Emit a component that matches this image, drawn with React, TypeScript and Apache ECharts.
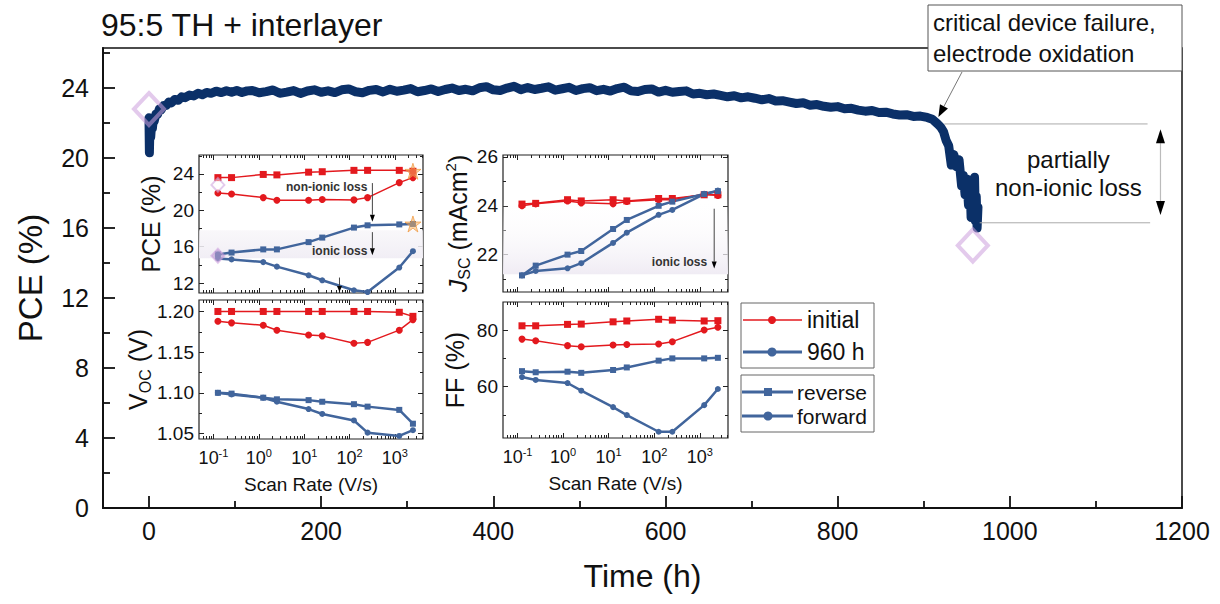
import React, { useEffect, useRef } from "react";
import * as echarts from "echarts";

const FONT = '"Liberation Sans", Arial, Helvetica, sans-serif';
const INK = "#111111";
const RED = "#e3191e";
const BLUE = "#41659c";
const NAVY = "#0b3068";
const LAV_LINE = "rgba(205,160,222,0.7)";
const LAV_FILL = "rgba(190,160,212,0.75)";
const STAR_FILL = "rgba(248,176,96,0.65)";
const STAR_LINE = "rgba(238,150,60,0.9)";

// ---------- main stability track ----------
const titleText = "95:5 TH + interlayer";
const mainXTicks = [0, 200, 400, 600, 800, 1000, 1200];
const mainXMinorTicks = [100, 300, 500, 700, 900, 1100];
const mainYTicks = [0, 4, 8, 12, 16, 20, 24];
const mainYMinorTicks = [2, 6, 10, 14, 18, 22, 26];
const MAIN_X_MIN = -53.4;
const MAIN_X_MAX = 1200;
const MAIN_Y_MIN = 0;
const MAIN_Y_MAX = 26.29;

const timeH = [
  0, 0.5, 1, 2, 3, 4, 5, 6, 8, 10, 12, 14, 17, 20, 23, 26, 30, 34, 38, 42, 47, 52, 57, 62, 67, 72, 78, 84, 90, 96, 102, 108, 114,
  120, 128, 136, 144, 152, 160, 168, 176, 184, 192, 200, 208, 216, 224, 232, 240, 248, 256, 264, 272, 280, 288, 296, 304, 312,
  320, 328, 336, 344, 352, 360, 368, 376, 384, 392, 400, 408, 416, 424, 432, 440, 448, 456, 464, 472, 480, 488, 496, 504, 512,
  520, 528, 536, 544, 552, 560, 568, 576, 584, 592, 600, 608, 616, 624, 632, 640, 648, 656, 664, 672, 680, 688, 696, 704, 712,
  720, 728, 736, 744, 752, 760, 768, 776, 784, 792, 800, 808, 816, 824, 832, 840, 848, 856, 864, 872, 880, 888, 896, 904,
  910, 916, 920, 923, 926, 929, 932, 935, 938, 941, 944, 946, 948, 950, 952, 954, 955, 957, 958, 959, 960, 961, 962, 963,
];
const pceTrack = [
  22.3, 20.3, 21.5, 21.2, 21.9, 21.7, 22.2, 22.1, 22.5, 22.5, 22.8, 22.75, 23.0, 23.0, 23.2, 23.15, 23.35, 23.3, 23.5, 23.45,
  23.6, 23.55, 23.7, 23.62, 23.75, 23.7, 23.82, 23.74, 23.85, 23.76, 23.86, 23.75, 23.84,
  23.86, 23.73, 23.8, 23.89, 23.7, 23.77, 23.86, 23.69, 23.83, 23.9,
  23.76, 23.84, 23.74, 23.9, 23.95, 23.79, 23.73, 23.87, 23.92, 23.78,
  23.93, 23.82, 23.88, 23.97, 23.79, 23.86, 23.95, 23.8, 23.92, 24.0,
  23.86, 23.93, 23.84, 24.02, 24.08, 23.9, 23.86, 24.0, 24.1, 23.91,
  24.03, 23.92, 23.99, 24.07, 23.88, 23.96, 24.04, 23.86, 23.97, 24.02,
  23.85, 23.93, 23.83, 23.97, 24.05, 23.84, 23.8, 23.92, 23.95, 23.77,
  23.87, 23.76, 23.8, 23.84, 23.66, 23.7, 23.62, 23.66, 23.58, 23.5,
  23.56, 23.44, 23.5, 23.42, 23.33, 23.4, 23.26, 23.28, 23.2, 23.12,
  23.16, 23.02, 23.06, 22.96, 22.9, 22.94, 22.82, 22.84, 22.74, 22.68,
  22.72, 22.6, 22.62, 22.52, 22.46, 22.48, 22.38, 22.4, 22.32,
  22.22, 21.95, 21.75, 21.5, 21.0, 20.7, 19.6, 20.2, 19.5, 19.9, 18.4, 19.0, 17.9, 18.8, 17.3, 18.2, 16.6, 18.6, 16.9, 18.9,
  16.4, 17.8, 16.0, 17.2,
];
const jvTimes = [0, 957];
const jvPce = [22.8, 15.0];

// ---------- insets (scan-rate dependence) ----------
const scanRates = [0.125, 0.25, 1.25, 2.5, 12.5, 25, 125, 250, 1250, 2500];
const scanMajorTicks = [0.1, 1, 10, 100, 1000];
const scanMinorTicks = [
  0.06, 0.07, 0.08, 0.09, 0.2, 0.3, 0.4, 0.5, 0.6, 0.7, 0.8, 0.9, 2, 3, 4, 5, 6, 7, 8, 9,
  20, 30, 40, 50, 60, 70, 80, 90, 200, 300, 400, 500, 600, 700, 800, 900, 2000, 3000, 4000,
];
const LOG_MIN = Math.pow(10, -1.32);
const LOG_MAX = Math.pow(10, 3.62);

const pceInitRev = [23.6, 23.6, 23.95, 23.9, 24.2, 24.25, 24.4, 24.4, 24.4, 24.3];
const pceInitFwd = [21.9, 21.8, 21.4, 21.1, 21.1, 21.2, 21.15, 21.4, 23.05, 23.6];
const pce960Rev = [15.15, 15.35, 15.7, 15.7, 16.5, 17.0, 18.1, 18.35, 18.45, 18.5];
const pce960Fwd = [14.7, 14.6, 14.3, 13.8, 12.85, 12.3, 11.2, 11.0, 13.7, 15.5];

const vocInitRev = [1.2, 1.2, 1.2, 1.2, 1.2, 1.2, 1.2, 1.2, 1.199, 1.194];
const vocInitFwd = [1.188, 1.186, 1.183, 1.177, 1.171, 1.17, 1.161, 1.162, 1.177, 1.19];
const voc960Rev = [1.1, 1.099, 1.094, 1.092, 1.091, 1.089, 1.086, 1.083, 1.079, 1.062];
const voc960Fwd = [1.1, 1.098, 1.094, 1.089, 1.08, 1.074, 1.066, 1.051, 1.047, 1.054];

const jscInitRev = [24.07, 24.1, 24.25, 24.2, 24.25, 24.2, 24.3, 24.3, 24.45, 24.45];
const jscInitFwd = [24.0, 24.08, 24.2, 24.12, 24.08, 24.18, 24.25, 24.25, 24.47, 24.42];
const jsc960Rev = [21.15, 21.55, 22.0, 22.15, 23.05, 23.42, 24.0, 24.17, 24.48, 24.6];
const jsc960Fwd = [21.15, 21.33, 21.44, 21.65, 22.48, 22.9, 23.63, 23.83, 24.48, 24.62];

const ffInitRev = [81.5, 81.5, 82.0, 82.1, 82.9, 83.2, 83.8, 83.5, 83.2, 83.3];
const ffInitFwd = [76.8, 76.2, 74.5, 74.1, 74.7, 74.9, 75.1, 75.9, 80.0, 81.0];
const ff960Rev = [65.5, 65.1, 65.3, 64.9, 65.9, 66.8, 69.2, 70.0, 70.0, 70.2];
const ff960Fwd = [63.4, 62.4, 61.3, 58.6, 52.8, 50.0, 44.1, 44.1, 53.5, 59.2];

const insetJvRate = [0.125, 0.125];
const insetJvPce = [22.8, 15.0];
const starRate = [2500, 2500];
const starPce = [24.3, 18.5];

const legendLabels = ["initial", "960 h", "reverse", "forward"];
const annotationLines = ["critical device failure,", "electrode oxidation"];
const lossLabels = ["partially", "non-ionic loss"];

const STAR_PATH =
  "path://M50,0 L61.2,34.5 L97.6,34.5 L68.2,55.9 L79.4,90.5 L50,69.1 L20.6,90.5 L31.8,55.9 L2.4,34.5 L38.8,34.5 Z";

const panels: any[] = [
  {
    grid: { left: 199, top: 155, width: 224, height: 138 },
    yMin: 10.9, yMax: 26.09, yTicks: [12, 16, 20, 24], yMinor: [14, 18, 22, 26], dec: 0,
    name: "PCE (%)", nameGap: 36, xLabels: false,
    data: [pceInitRev, pceInitFwd, pce960Rev, pce960Fwd],
    band: [14.73, 17.8], bandStrong: false,
  },
  {
    grid: { left: 199, top: 300, width: 224, height: 139 },
    yMin: 1.0432, yMax: 1.2141, yTicks: [1.05, 1.1, 1.15, 1.2], yMinor: [1.075, 1.125, 1.175], dec: 2,
    name: "{v|V}{s|OC}{v| (V)}", nameGap: 36, xLabels: true,
    data: [vocInitRev, vocInitFwd, voc960Rev, voc960Fwd],
  },
  {
    grid: { left: 503, top: 155, width: 225, height: 137 },
    yMin: 20.47, yMax: 26.08, yTicks: [22, 24, 26], yMinor: [21, 23, 25], dec: 0,
    name: "{j|J}{s|SC}{v| (mAcm}{p|2}{v|)}", nameGap: 30, xLabels: false,
    data: [jscInitRev, jscInitFwd, jsc960Rev, jsc960Fwd],
    band: [21.2, 24.3], bandStrong: true,
  },
  {
    grid: { left: 503, top: 302, width: 225, height: 136 },
    yMin: 41.9, yMax: 89.9, yTicks: [60, 80], yMinor: [50, 70], dec: 0,
    name: "FF (%)", nameGap: 36, xLabels: true,
    data: [ffInitRev, ffInitFwd, ff960Rev, ff960Fwd],
  },
];

const seriesStyles = [
  { color: RED, symbol: "rect", width: 1.5, size: 7 },
  { color: RED, symbol: "circle", width: 1.5, size: 7 },
  { color: BLUE, symbol: "rect", width: 2.5, size: 6 },
  { color: BLUE, symbol: "circle", width: 2.5, size: 6 },
];

const nameRich = {
  v: { fontSize: 25, lineHeight: 30, fontFamily: FONT, color: INK },
  j: { fontSize: 25, lineHeight: 30, fontFamily: FONT, color: INK, fontStyle: "italic" },
  s: { fontSize: 16, lineHeight: 14, verticalAlign: "bottom", fontFamily: FONT, color: INK },
  p: { fontSize: 15, lineHeight: 14, verticalAlign: "top", fontFamily: FONT, color: INK },
};

function buildOption() {
  const grid: any[] = [];
  const xAxis: any[] = [];
  const yAxis: any[] = [];
  const series: any[] = [];
  const axes: any[] = [];
  const mainTick = { color: INK, width: 1.8 };

  grid.push({
    left: 103, top: 48, width: 1079, height: 460, show: true, borderColor: INK, borderWidth: 1.5,
    backgroundColor: "transparent", containLabel: false, outerBoundsMode: "none",
  });
  const mx = { gridIndex: 0, type: "value", min: MAIN_X_MIN, max: MAIN_X_MAX, position: "bottom", splitLine: { show: false } };
  xAxis.push({
    ...mx,
    axisLine: { show: true, onZero: false, lineStyle: { color: INK, width: 2 } },
    axisTick: { show: true, inside: true, length: 12, customValues: mainXTicks, lineStyle: mainTick },
    axisLabel: {
      show: true, customValues: mainXTicks, fontSize: 25, color: INK, margin: 10, fontFamily: FONT,
      formatter: (v: number) => String(v),
    },
    name: "Time (h)", nameLocation: "middle", nameGap: 52,
    nameTextStyle: { fontSize: 32, color: INK, fontFamily: FONT },
  });
  xAxis.push({
    ...mx,
    axisLine: { show: false, onZero: false },
    axisTick: { show: true, inside: true, length: 7, customValues: mainXMinorTicks, lineStyle: mainTick },
    axisLabel: { show: false },
  });
  const my = { gridIndex: 0, type: "value", min: MAIN_Y_MIN, max: MAIN_Y_MAX, position: "left", splitLine: { show: false } };
  yAxis.push({
    ...my,
    axisLine: { show: true, onZero: false, lineStyle: { color: INK, width: 2 } },
    axisTick: { show: true, inside: true, length: 12, customValues: mainYTicks, lineStyle: mainTick },
    axisLabel: {
      show: true, customValues: mainYTicks, fontSize: 25, color: INK, margin: 14, fontFamily: FONT,
      formatter: (v: number) => String(v),
    },
    name: "PCE (%)", nameLocation: "middle", nameRotate: 90, nameGap: 56,
    nameTextStyle: { fontSize: 33, color: INK, fontFamily: FONT },
  });
  yAxis.push({
    ...my,
    axisLine: { show: false, onZero: false },
    axisTick: { show: true, inside: true, length: 7, customValues: mainYMinorTicks, lineStyle: mainTick },
    axisLabel: { show: false },
  });
  axes.push({ xi: 0, yi: 0 });

  series.push({
    type: "line", name: "PCE track", xAxisIndex: 0, yAxisIndex: 0,
    data: timeH.map((t, i) => [t, pceTrack[i]]),
    showSymbol: false, symbol: "none",
    lineStyle: { color: NAVY, width: 9, join: "round", cap: "round" },
    z: 3, silent: true,
  });
  series.push({
    type: "scatter", name: "JV points", xAxisIndex: 0, yAxisIndex: 0,
    data: jvTimes.map((t, i) => [t, jvPce[i]]),
    symbol: "diamond", symbolSize: [30, 32],
    itemStyle: { color: "rgba(255,255,255,0)", borderColor: LAV_LINE, borderWidth: 4 },
    z: 4, silent: true,
  });

  const tickLine = { color: "#222", width: 1 };
  const powFmt = (v: number) => "{b|10}{s|" + Math.round(Math.log10(v)) + "}";

  panels.forEach((p, k) => {
    const gi = grid.length;
    grid.push({
      ...p.grid, show: true, backgroundColor: "#ffffff", borderColor: "#222", borderWidth: 1.2,
      containLabel: false, outerBoundsMode: "none",
    });
    const cx = {
      gridIndex: gi, type: "log", logBase: 10, min: LOG_MIN, max: LOG_MAX,
      axisLine: { show: false, onZero: false }, splitLine: { show: false },
    };
    const xi = xAxis.length;
    xAxis.push({
      ...cx, position: "bottom",
      axisTick: { show: true, inside: true, length: 5, customValues: scanMajorTicks, lineStyle: tickLine },
      axisLabel: p.xLabels
        ? {
            show: true, customValues: scanMajorTicks, formatter: powFmt, margin: 8,
            rich: {
              b: { fontSize: 18, lineHeight: 22, fontFamily: FONT, color: INK },
              s: { fontSize: 11, lineHeight: 12, verticalAlign: "top", fontFamily: FONT, color: INK },
            },
          }
        : { show: false },
      name: p.xLabels ? "Scan Rate (V/s)" : "", nameLocation: "middle", nameGap: 36,
      nameTextStyle: { fontSize: 19, color: INK, fontFamily: FONT },
    });
    xAxis.push({ ...cx, position: "bottom", axisTick: { show: true, inside: true, length: 3, customValues: scanMinorTicks, lineStyle: tickLine }, axisLabel: { show: false } });
    xAxis.push({ ...cx, position: "top", axisTick: { show: true, inside: true, length: 5, customValues: scanMajorTicks, lineStyle: tickLine }, axisLabel: { show: false } });
    xAxis.push({ ...cx, position: "top", axisTick: { show: true, inside: true, length: 3, customValues: scanMinorTicks, lineStyle: tickLine }, axisLabel: { show: false } });

    const cy = {
      gridIndex: gi, type: "value", min: p.yMin, max: p.yMax,
      axisLine: { show: false, onZero: false }, splitLine: { show: false },
    };
    const yi = yAxis.length;
    yAxis.push({
      ...cy, position: "left",
      axisTick: { show: true, inside: true, length: 5, customValues: p.yTicks, lineStyle: tickLine },
      axisLabel: {
        show: true, customValues: p.yTicks, fontSize: 19, color: INK, fontFamily: FONT, margin: 5,
        formatter: (v: number) => v.toFixed(p.dec),
      },
      name: p.name, nameLocation: "middle", nameRotate: 90, nameGap: p.nameGap,
      nameTextStyle: { fontSize: 25, color: INK, fontFamily: FONT, rich: nameRich },
    });
    yAxis.push({ ...cy, position: "left", axisTick: { show: true, inside: true, length: 3, customValues: p.yMinor, lineStyle: tickLine }, axisLabel: { show: false } });
    yAxis.push({ ...cy, position: "right", axisTick: { show: true, inside: true, length: 5, customValues: p.yTicks, lineStyle: tickLine }, axisLabel: { show: false } });
    yAxis.push({ ...cy, position: "right", axisTick: { show: true, inside: true, length: 3, customValues: p.yMinor, lineStyle: tickLine }, axisLabel: { show: false } });
    axes.push({ xi, yi });

    p.data.forEach((vals: number[], j: number) => {
      const st = seriesStyles[j];
      const s: any = {
        type: "line", name: legendLabels[j < 2 ? 0 : 1] + " " + legendLabels[2 + (j % 2)],
        xAxisIndex: xi, yAxisIndex: yi,
        data: scanRates.map((r, i) => [r, vals[i]]),
        symbol: st.symbol, symbolSize: st.size, showSymbol: true,
        lineStyle: { color: st.color, width: st.width }, itemStyle: { color: st.color },
        z: 6, silent: true,
      };
      if (j === 0 && p.band) {
        const top = p.bandStrong ? "rgba(255,255,255,0)" : "rgba(246,244,248,0.7)";
        const bot = p.bandStrong ? "rgba(240,236,244,1)" : "rgba(241,238,245,1)";
        s.markArea = {
          silent: true,
          itemStyle: { color: new echarts.graphic.LinearGradient(0, 0, 0, 1, [{ offset: 0, color: top }, { offset: 1, color: bot }]) },
          data: [[{ yAxis: p.band[0] }, { yAxis: p.band[1] }]],
        };
      }
      series.push(s);
    });

    if (k === 0) {
      series.push({
        type: "scatter", xAxisIndex: xi, yAxisIndex: yi, z: 8, silent: true,
        data: [
          { value: [insetJvRate[0], insetJvPce[0]], itemStyle: { color: "rgba(255,255,255,0.6)", borderColor: LAV_LINE, borderWidth: 2 } },
          { value: [insetJvRate[1], insetJvPce[1]], itemStyle: { color: LAV_FILL, borderColor: LAV_LINE, borderWidth: 2 } },
        ],
        symbol: "diamond", symbolSize: [13, 14],
      });
      series.push({
        type: "scatter", xAxisIndex: xi, yAxisIndex: yi, z: 8, silent: true,
        data: starRate.map((r, i) => [r, starPce[i]]),
        symbol: STAR_PATH, symbolSize: 16,
        itemStyle: { color: STAR_FILL, borderColor: STAR_LINE, borderWidth: 1 },
      });
    }
  });

  const option = {
    animation: false,
    backgroundColor: "#ffffff",
    textStyle: { fontFamily: FONT },
    grid, xAxis, yAxis, series,
  };
  return { option, axes };
}

function arrow(x1: number, y1: number, x2: number, y2: number, stroke: string, lw: number, headLen: number, headW: number, head: string, z: number) {
  const dx = x2 - x1, dy = y2 - y1;
  const L = Math.hypot(dx, dy) || 1;
  const ux = dx / L, uy = dy / L;
  const bx = x2 - ux * headLen, by = y2 - uy * headLen;
  return [
    { type: "line", z, shape: { x1, y1, x2: bx, y2: by }, style: { stroke, lineWidth: lw } },
    {
      type: "polygon", z,
      shape: { points: [[x2, y2], [bx - uy * headW, by + ux * headW], [bx + uy * headW, by - ux * headW]] },
      style: { fill: head },
    },
  ];
}

function buildGraphics(chart: any, axes: any[]) {
  const Z = 100;
  const px = (k: number, x: number, y: number) =>
    chart.convertToPixel({ xAxisIndex: axes[k].xi, yAxisIndex: axes[k].yi }, [x, y]) as number[];
  const txt = (x: number, y: number, t: string, size: number, extra: any = {}) => ({
    type: "text", x, y, z: Z,
    style: { text: t, fontSize: size, fontFamily: FONT, fill: INK, align: "left", verticalAlign: "middle", ...extra },
  });
  const els: any[] = [];

  els.push(txt(101, 25, titleText, 32));

  // annotation box
  els.push({ type: "rect", z: Z, shape: { x: 928, y: 5, width: 254, height: 66 }, style: { fill: "#fff", stroke: "#555", lineWidth: 1 } });
  els.push(txt(933, 22, annotationLines[0], 24));
  els.push(txt(933, 53, annotationLines[1], 24));
  const knee = px(0, 917, 22.35);
  els.push(...arrow(962, 72, knee[0], knee[1], "#777", 1, 12, 4.5, "#000", Z));

  // partially non-ionic loss bracket
  const u1 = px(0, 924, 21.95), u2 = px(0, 1160, 21.95);
  const l1 = px(0, 965, 16.3), l2 = px(0, 1163, 16.3);
  els.push({ type: "line", z: Z, shape: { x1: u1[0], y1: u1[1], x2: u2[0], y2: u2[1] }, style: { stroke: "#aaa", lineWidth: 1 } });
  els.push({ type: "line", z: Z, shape: { x1: l1[0], y1: l1[1], x2: l2[0], y2: l2[1] }, style: { stroke: "#aaa", lineWidth: 1 } });
  const dTop = px(0, 1175, 21.65), dBot = px(0, 1175, 16.75);
  const mid = (dTop[1] + dBot[1]) / 2;
  els.push(...arrow(dTop[0], mid, dTop[0], dTop[1], "#bbb", 1.2, 14, 4.5, "#000", Z));
  els.push(...arrow(dBot[0], mid, dBot[0], dBot[1], "#bbb", 1.2, 14, 4.5, "#000", Z));
  const t1 = px(0, 1068, 19.9), t2 = px(0, 1068, 18.3);
  els.push(txt(t1[0], t1[1], lossLabels[0], 24, { align: "center" }));
  els.push(txt(t2[0], t2[1], lossLabels[1], 24, { align: "center" }));

  // inset annotations: PCE
  const a1 = px(1, 319, 23.0), a2 = px(1, 319, 18.75);
  els.push(...arrow(a1[0], a1[1], a2[0], a2[1], "#444", 1, 7, 2.5, "#000", Z));
  els.push(txt(a1[0] - 5, px(1, 319, 22.55)[1], "non-ionic loss", 12, { align: "right", fontWeight: "bold", fill: "#333" }));
  const b1 = px(1, 319, 17.6), b2 = px(1, 319, 15.05);
  els.push(...arrow(b1[0], b1[1], b2[0], b2[1], "#444", 1, 7, 2.5, "#000", Z));
  els.push(txt(b1[0] - 5, px(1, 319, 15.5)[1], "ionic loss", 12, { align: "right", fontWeight: "bold", fill: "#333" }));
  const c1 = px(1, 60, 12.6), c2 = px(1, 60, 11.0);
  els.push(...arrow(c1[0], c1[1], c2[0], c2[1], "#444", 1, 6, 2.5, "#000", Z));

  // inset annotation: Jsc
  const j1 = px(3, 2075, 23.88), j2 = px(3, 2075, 21.43);
  els.push(...arrow(j1[0], j1[1], j2[0], j2[1], "#444", 1, 7, 2.5, "#000", Z));
  els.push(txt(j1[0] - 7, px(3, 2075, 21.68)[1], "ionic loss", 12, { align: "right", fontWeight: "bold", fill: "#333" }));

  // legends
  els.push({ type: "rect", z: Z, shape: { x: 741, y: 303, width: 133, height: 65 }, style: { fill: "#fff", stroke: "#666", lineWidth: 1 } });
  els.push({ type: "line", z: Z, shape: { x1: 743, y1: 320, x2: 802, y2: 320 }, style: { stroke: RED, lineWidth: 1.5 } });
  els.push({ type: "circle", z: Z, shape: { cx: 772, cy: 320, r: 4 }, style: { fill: RED } });
  els.push(txt(807, 320, legendLabels[0], 23));
  els.push({ type: "line", z: Z, shape: { x1: 743, y1: 352, x2: 802, y2: 352 }, style: { stroke: BLUE, lineWidth: 3 } });
  els.push({ type: "circle", z: Z, shape: { cx: 772, cy: 352, r: 4.5 }, style: { fill: BLUE } });
  els.push(txt(807, 352, legendLabels[1], 23));

  els.push({ type: "rect", z: Z, shape: { x: 741, y: 375, width: 133, height: 57 }, style: { fill: "#fff", stroke: "#666", lineWidth: 1 } });
  els.push({ type: "line", z: Z, shape: { x1: 742, y1: 392, x2: 793, y2: 392 }, style: { stroke: BLUE, lineWidth: 3 } });
  els.push({ type: "rect", z: Z, shape: { x: 764, y: 388, width: 8, height: 8 }, style: { fill: BLUE } });
  els.push(txt(797, 392, legendLabels[2], 21));
  els.push({ type: "line", z: Z, shape: { x1: 742, y1: 416, x2: 793, y2: 416 }, style: { stroke: BLUE, lineWidth: 3 } });
  els.push({ type: "circle", z: Z, shape: { cx: 768, cy: 416, r: 4.5 }, style: { fill: BLUE } });
  els.push(txt(797, 416, legendLabels[3], 21));

  return els;
}

export default function App() {
  const ref = useRef<HTMLDivElement>(null);
  useEffect(() => {
    if (!ref.current) return;
    const chart = echarts.init(ref.current, null, { renderer: "svg" });
    const built = buildOption();
    chart.setOption(built.option);
    chart.setOption({ graphic: buildGraphics(chart, built.axes) });
    return () => chart.dispose();
  }, []);
  return (
    <div
      ref={ref}
      style={{ position: "fixed", left: 0, top: 0, width: 1220, height: 604, background: "#fff" }}
    />
  );
}
